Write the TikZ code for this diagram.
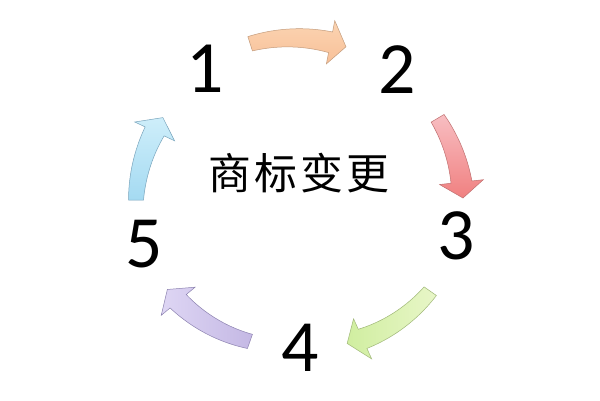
\documentclass[tikz,border=0pt]{standalone}
\usepackage{fontspec}
\newfontfamily\numfont{Carlito}
\newfontfamily\cjk{Noto Sans CJK SC}
\definecolor{orfill}{RGB}{251,212,178}
\definecolor{orfillb}{RGB}{248,192,152}
\definecolor{oredge}{RGB}{196,156,124}
\definecolor{rdfill}{RGB}{248,190,194}
\definecolor{rdfillb}{RGB}{240,128,128}
\definecolor{rdedge}{RGB}{192,112,112}
\definecolor{grfill}{RGB}{232,246,200}
\definecolor{grfillb}{RGB}{208,238,160}
\definecolor{gredge}{RGB}{160,184,120}
\definecolor{pufill}{RGB}{222,214,244}
\definecolor{pufillb}{RGB}{196,184,228}
\definecolor{puedge}{RGB}{140,130,176}
\definecolor{blfill}{RGB}{206,238,250}
\definecolor{blfillb}{RGB}{164,218,242}
\definecolor{bledge}{RGB}{120,164,188}
\tikzset{
  numlabel/.style={inner sep=0pt, font=\numfont\fontsize{74}{74}\selectfont},
  titlelabel/.style={inner sep=0pt, font=\cjk\fontsize{43}{43}\selectfont},
  arrowbody/.style={line width=0.5pt, line join=miter},
}
% #1 style, #2 tail angle, #3 tail radius, #4 tip angle, #5 tip radius
\newcommand\cycarrow[5]{%
  \pgfmathsetmacro\aT{#2}\pgfmathsetmacro\rT{#3}%
  \pgfmathsetmacro\aP{#4}\pgfmathsetmacro\rP{#5}%
  \pgfmathsetmacro\aB{\aP+16/\rP*57.2958}%
  \pgfmathsetmacro\rB{\rT+(\rP-\rT)*(\aB-\aT)/(\aP-\aT)}%
  \path[arrowbody,#1]
    plot[domain=\aT:\aB, samples=30, variable=\t]
      ({300+(\rT+(\rP-\rT)*(\t-\aT)/(\aP-\aT)+(15+6*(\t-\aT)/(\aB-\aT))/2)*cos(\t)},
       {200+(\rT+(\rP-\rT)*(\t-\aT)/(\aP-\aT)+(15+6*(\t-\aT)/(\aB-\aT))/2)*sin(\t)})
    -- ({300+(\rB+22)*cos(\aB)},{200+(\rB+22)*sin(\aB)})
    -- ({300+\rP*cos(\aP)},{200+\rP*sin(\aP)})
    -- ({300+(\rB-22)*cos(\aB)},{200+(\rB-22)*sin(\aB)})
    -- plot[domain=\aB:\aT, samples=30, variable=\t]
      ({300+(\rT+(\rP-\rT)*(\t-\aT)/(\aP-\aT)-(15+6*(\t-\aT)/(\aB-\aT))/2)*cos(\t)},
       {200+(\rT+(\rP-\rT)*(\t-\aT)/(\aP-\aT)-(15+6*(\t-\aT)/(\aB-\aT))/2)*sin(\t)})
    -- cycle;
}
\begin{document}
\begin{tikzpicture}[x=1bp,y=1bp]
\useasboundingbox[fill=white] (0,0) rectangle (600,400);
% numbers
\node[numlabel] (n1) at (205,331) {1};
\node[numlabel] (n2) at (397,330) {2};
\node[numlabel] (n3) at (456,164) {3};
\node[numlabel] (n4) at (300,52) {4};
\node[numlabel] (n5) at (144,156) {5};
% title
\node[titlelabel] (title) at (299,227) {商\hspace{3bp}标\hspace{3bp}变\hspace{3bp}更};
% arrows
\cycarrow{draw=oredge, top color=orfill, bottom color=orfillb}{107.7}{164}{73.3}{160}
\cycarrow{draw=rdedge, top color=rdfill, bottom color=rdfillb}{30.7}{160}{0.7}{163}
\cycarrow{draw=gredge, right color=grfill, left color=grfillb}{-35}{159}{-71.8}{151}
\cycarrow{draw=puedge, right color=pufillb, left color=pufill}{-109.5}{150}{-146}{160}
\cycarrow{draw=bledge, bottom color=blfillb, top color=blfill}{180}{164}{149}{160}
\end{tikzpicture}
\end{document}
